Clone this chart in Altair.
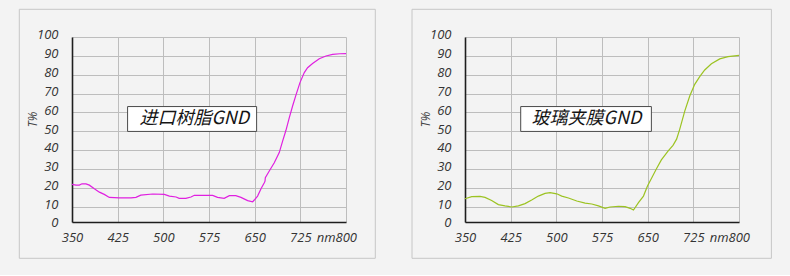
import altair as alt
import pandas as pd

# ---------------- data ----------------
left_nm = [350, 356.6, 362, 366.4, 373, 378.5, 386.7, 395, 403, 411.3, 427.7, 447, 455, 463,
           482.5, 501.6, 510, 521, 526, 537, 545.4, 551, 581, 589, 600, 608.4, 619, 627.5,
           638.5, 646.7, 649.4, 654.8, 660.4, 665.8, 667, 667.5, 674, 682.2, 690.4, 695.9,
           701.4, 706.9, 712.3, 717.9, 724.4, 731.5, 736.9, 745.1, 756.1, 767.1, 778, 790, 800]
left_t = [21.8, 21.4, 21.4, 22.1, 22.1, 21.4, 19.5, 17.7, 16.5, 14.9, 14.7, 14.6, 14.9, 16.1,
          16.7, 16.5, 15.6, 15.1, 14.4, 14.4, 15.1, 16.0, 16.0, 14.9, 14.4, 15.8, 15.8, 14.9,
          13.2, 12.6, 13.5, 15.6, 19.5, 22.7, 23.5, 25.4, 28.9, 33.3, 38.7, 44.8,
          50.5, 57.2, 63.4, 69.3, 75.8, 81.1, 83.7, 85.9, 88.5, 89.9, 90.8, 91.1, 91.2]

right_nm = [350, 361, 374.7, 382.9, 393.8, 404.8, 415.7, 426.7, 437.7, 448.6, 459.5, 470.5,
            481.5, 489.7, 500.7, 508.9, 519.9, 533.6, 547.3, 558.2, 569.2, 580.1, 588.3, 602,
            613, 621.2, 626.7, 634.9, 643.1, 649.7, 656.8, 664, 672.5, 683.4, 691.6, 697.5,
            702.6, 710.9, 719.1, 727.3, 735.5, 743.7, 754.7, 768.4, 782, 793, 800]
right_t = [14.2, 15.3, 15.4, 14.9, 13.3, 11.1, 10.4, 9.8, 10.4, 11.6, 13.5, 15.6,
           17.0, 17.4, 16.8, 15.6, 14.6, 13.0, 11.9, 11.4, 10.4, 9.1, 9.8, 10.2,
           10.0, 9.1, 8.2, 12.1, 15.6, 20.9, 25.3, 29.8, 34.8, 39.5, 42.5, 45.8,
           51.0, 60.7, 68.7, 74.9, 79.0, 82.5, 85.8, 88.4, 89.6, 90.0, 90.2]

x_ticks = [350, 425, 500, 575, 650, 725, 800]
y_bottom = 1.85  # the x axis sits slightly above the 0 level of the grid
y_ticks = [y_bottom, 10, 20, 30, 40, 50, 60, 70, 80, 90, 100]

labels = ["进口树脂GND", "玻璃夹膜GND"]
label_x = [550.9, 549.4]
label_y = [56.3, 56.3]
box_x0 = [441.3, 441.5]
box_x1 = [653.2, 656.1]
box_y0 = [49.9, 49.9]
box_y1 = [63.1, 63.1]
colors = ["#e020e0", "#9cc322"]

# panel frames (pixel offsets relative to plot area)
frame_x0 = [-52.7, -53.0]
frame_x1 = [303.3, 306.4]
frame_y0 = [-27.7, -27.7]
frame_y1 = [221.3, 221.3]

W, H = 274, 185
xscale = alt.Scale(domain=[350, 800], nice=False, zero=False)
yscale = alt.Scale(domain=[y_bottom, 100], nice=False, zero=False)

FONT = "Open Sans"

x_axis = alt.Axis(
    values=x_ticks, title="", ticks=False, grid=True,
    gridColor="#bdbdbd", gridWidth=1,
    domainColor="#1e1e1e", domainWidth=1.6,
    labelFont=FONT, labelFontStyle="italic", labelFontSize=13, labelColor="#333333",
    labelPadding=9, labelFlush=False,
    labelExpr="datum.value == 800 ? 'nm800' : datum.label",
    labelAlign={"condition": {"test": "datum.value == 800", "value": "right"}, "value": "center"},
    labelOffset={"condition": {"test": "datum.value == 800", "value": 10.5}, "value": 0},
)
y_axis = alt.Axis(
    values=y_ticks, title="T%", ticks=False, grid=True,
    gridColor="#bdbdbd", gridWidth=1,
    gridOpacity={"condition": {"test": "datum.value < 5", "value": 0}, "value": 1},
    domainColor="#1e1e1e", domainWidth=1.6,
    labelFont=FONT, labelFontStyle="italic", labelFontSize=13, labelColor="#333333",
    labelPadding=14, labelFlush=False,
    labelOffset={"condition": {"test": "datum.value < 5", "value": 0.5}, "value": -2.2},
    labelExpr="datum.value < 5 ? '0' : datum.label",
    titleFont=FONT, titleFontStyle="italic", titleFontWeight="normal",
    titleFontSize=12, titleColor="#444444", titleAngle=270,
    titleX=-40, titleY=82, titleAlign="center", titleBaseline="middle",
)


def panel(i, nm, t):
    df = pd.DataFrame({"nm": nm, "t": t})
    frame = alt.Chart(alt.Data(values=[{"a": 1}])).mark_rect(
        fill="transparent", stroke="#c6c6c6", strokeWidth=1
    ).encode(
        x=alt.value(frame_x0[i]), x2=alt.value(frame_x1[i]),
        y=alt.value(frame_y0[i]), y2=alt.value(frame_y1[i]),
    )
    line = alt.Chart(df).mark_line(color=colors[i], strokeWidth=1.2).encode(
        x=alt.X("nm:Q", scale=xscale, axis=x_axis, title=""),
        y=alt.Y("t:Q", scale=yscale, axis=y_axis, title="T%"),
    )
    ann = pd.DataFrame({"nm": [box_x0[i]], "nm2": [box_x1[i]], "t": [box_y0[i]],
                        "t2": [box_y1[i]], "lx": [label_x[i]], "ly": [label_y[i]],
                        "txt": [labels[i]]})
    box = alt.Chart(ann).mark_rect(fill="white", stroke="#4a4a4a", strokeWidth=1).encode(
        x=alt.X("nm:Q", scale=xscale, axis=x_axis, title=""), x2="nm2:Q",
        y=alt.Y("t:Q", scale=yscale, axis=y_axis, title="T%"), y2="t2:Q",
    )
    txt = alt.Chart(ann).mark_text(
        font="Noto Sans CJK SC", fontStyle="italic", fontSize=18, color="#151515",
        align="center", baseline="middle",
    ).encode(
        x=alt.X("lx:Q", scale=xscale, axis=x_axis, title=""),
        y=alt.Y("ly:Q", scale=yscale, axis=y_axis, title="T%"),
        text="txt:N",
    )
    return alt.layer(frame, line, box, txt).properties(width=W, height=H)


chart = alt.hconcat(
    panel(0, left_nm, left_t), panel(1, right_nm, right_t), spacing=35
).properties(
    padding={"left": 18, "top": 8, "right": 18, "bottom": 16},
    background="#f3f3f3",
).configure_view(strokeWidth=0)

chart.save("out.html", embed_options={"renderer": "svg", "actions": False})
